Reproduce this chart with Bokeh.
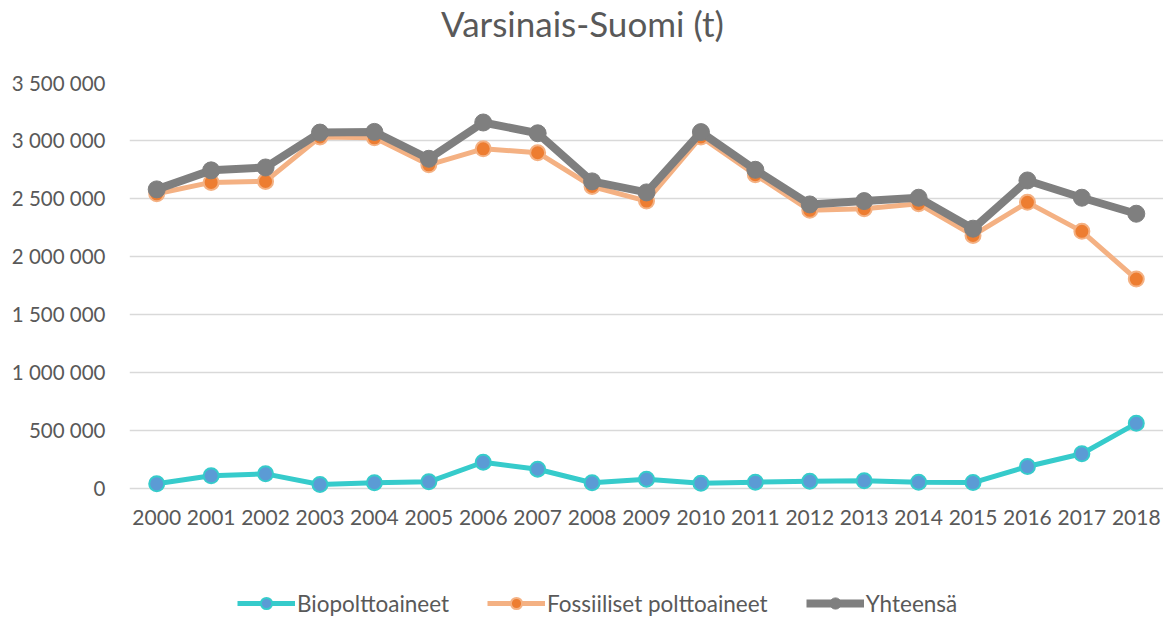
from bokeh.plotting import figure
from bokeh.models import FactorRange, Range1d, FixedTicker, CustomJSTickFormatter, Legend, LegendItem, Label
from bokeh.layouts import column
from bokeh.embed import file_html
from bokeh.resources import INLINE

years = [str(y) for y in range(2000, 2019)]
bio = [38000, 107000, 124000, 32000, 47000, 55000, 224000, 164000, 47000, 78000,
       43000, 52000, 60000, 64000, 52000, 49000, 187000, 297000, 560000]
fossil = [2540000, 2638000, 2647000, 3030000, 3023000, 2790000, 2928000, 2894000, 2603000, 2477000,
          3030000, 2704000, 2397000, 2411000, 2454000, 2181000, 2466000, 2216000, 1804000]
total = [2578000, 2742000, 2767000, 3068000, 3074000, 2842000, 3155000, 3062000, 2647000, 2552000,
         3072000, 2747000, 2448000, 2477000, 2506000, 2239000, 2655000, 2506000, 2368000]
y_ticks = [0, 500000, 1000000, 1500000, 2000000, 2500000, 3000000, 3500000]
labels = ["Biopolttoaineet", "Fossiiliset polttoaineet", "Yhteensä"]
title_text = "Varsinais-Suomi (t)"

FONT = "Lato"
TXT = "#595959"
W = 1163
LEFT = 129
colors = dict(bio=("#36CBCB", "#5B9BD5"), fossil=("#F4B183", "#ED7D31"), total=("#7F7F7F", "#7F7F7F"))


def bare(height, x_range, y_range):
    f = figure(width=W, height=height, output_backend="svg", toolbar_location=None,
               x_range=x_range, y_range=y_range, x_axis_location=None, y_axis_location=None,
               min_border=0)
    f.outline_line_color = None
    f.grid.visible = False
    return f


# --- title strip (its frame is aligned with the chart's frame by the column layout)
pt = bare(50, Range1d(LEFT, W), Range1d(0, 50))
pt.add_layout(Label(x=582, y=28, text=title_text, text_align="center", text_baseline="middle",
                    text_font=FONT, text_font_size="35px", text_color=TXT))

# --- main chart
p = figure(width=W, height=495, output_backend="svg", toolbar_location=None,
           x_range=FactorRange(factors=years, range_padding=0),
           y_range=Range1d(-80000, 3500000),
           min_border_left=LEFT, min_border_right=0, min_border_top=32, min_border_bottom=48)
p.outline_line_color = None
p.xgrid.grid_line_color = None
p.ygrid.grid_line_color = "#D9D9D9"
p.ygrid.grid_line_width = 1.5
p.yaxis.ticker = FixedTicker(ticks=y_ticks)
p.yaxis.formatter = CustomJSTickFormatter(code="return tick.toFixed(0).replace(/\\B(?=(\\d{3})+(?!\\d))/g, ' ');")
for ax in (p.xaxis, p.yaxis):
    ax.axis_line_color = None
    ax.major_tick_line_color = None
    ax.minor_tick_line_color = None
    ax.major_label_text_font = FONT
    ax.major_label_text_color = TXT
p.yaxis.major_label_text_font_size = "20.5px"
p.xaxis.major_label_text_font_size = "21px"
p.yaxis.major_label_standoff = 18
p.xaxis.major_label_standoff = 6


def draw(f, key, vals, lw, size, mlw):
    lc, fc = colors[key]
    ln = f.line(years, vals, line_color=lc, line_width=lw)
    sc = f.scatter(years, vals, size=size, fill_color=fc, line_color=lc, line_width=mlw)
    return ln, sc


draw(p, "bio", bio, 5, 15, 2)
draw(p, "fossil", fossil, 5, 15, 2)
draw(p, "total", total, 8, 17, 1)

# --- legend strip (series drawn far outside its view; only the legend shows)
pl = bare(72, FactorRange(factors=years, range_padding=0), Range1d(-9e7, -8e7))
r1 = draw(pl, "bio", bio, 5, 15, 2)
r2 = draw(pl, "fossil", fossil, 5, 15, 2)
r3 = draw(pl, "total", total, 8, 17, 1)
legend = Legend(items=[LegendItem(label=labels[0], renderers=list(r1)),
                       LegendItem(label=labels[1], renderers=list(r2)),
                       LegendItem(label=labels[2], renderers=list(r3))],
                orientation="horizontal", location=(237 - LEFT, 0))
legend.glyph_width = 58
legend.glyph_height = 28
legend.label_text_font = FONT
legend.label_text_font_size = "22.5px"
legend.label_text_color = TXT
legend.label_standoff = 2
legend.spacing = 38
legend.padding = 0
legend.margin = 0
legend.border_line_color = None
legend.background_fill_alpha = 0
pl.add_layout(legend, "center")

layout = column(pt, p, pl, spacing=0)
open("out.html", "w").write(file_html(layout, INLINE))
